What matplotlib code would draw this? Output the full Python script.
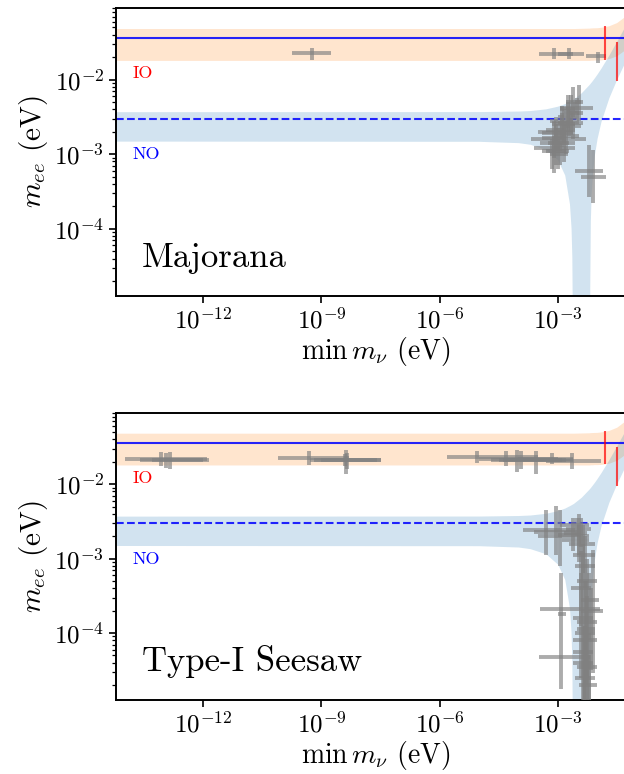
import numpy as np
import matplotlib
matplotlib.use('Agg')
import matplotlib.pyplot as plt
from matplotlib.ticker import LogLocator, NullLocator

plt.rcParams.update({
    'font.family': 'serif',
    'font.serif': ['cmr10'],
    'mathtext.fontset': 'cm',
    'axes.formatter.use_mathtext': True,
    'axes.linewidth': 1.4,
})

# m_ee bands vs lightest mass (log10 eV)
band_lx = [-15, -5, -4, -3.7, -3.3, -3, -2.82, -2.7, -2.66, -2.64, -2.63, -2.62, -2.6, -2.4,
           -2.2, -2.19, -2.185, -2.17, -2.15, -2.12, -2.07, -2, -1.9, -1.7, -1.5, -1.3, -1.0]
no_lo = [0.00150, 0.00149, 0.00143, 0.00136, 0.00116, 0.00084, 0.000525, 0.000216, 0.000102, 0.000042,
         0.0000088, 1e-9, 1e-9, 1e-9, 1e-9, 1e-9, 0.000016, 0.000128, 0.000284, 0.000527, 0.000954,
         0.00162, 0.00274, 0.0057, 0.0101, 0.0168, 0.0346]
no_hi = [0.00372, 0.00373, 0.00379, 0.00385, 0.00406, 0.00441, 0.00477, 0.00514, 0.00528, 0.00535,
         0.00539, 0.00543, 0.0055, 0.00667, 0.00861, 0.00874, 0.0088, 0.0090, 0.00927, 0.00972, 0.01053,
         0.01188, 0.01426, 0.0213, 0.0326, 0.0508, 0.1004]
io_lo = [0.0181] * 14 + [0.0181, 0.0181, 0.0181, 0.0182, 0.0182, 0.0182, 0.0183,
                         0.0183, 0.0184, 0.0191, 0.0209, 0.0249, 0.0392]
io_hi = [0.0484] * 13 + [0.0487, 0.0490, 0.0491, 0.0491, 0.0492, 0.0493, 0.0494, 0.0495,
                         0.0496, 0.0503, 0.0527, 0.0582, 0.0699, 0.1115]

# reference lines
sens_io = 0.036
sens_no = 0.003
red_x = [0.0158, 0.0316]
red_ylo = [0.0184, 0.00944]
red_yhi = [0.0521, 0.0320]

# Majorana points (log10): centre, x range, y range
maj_lx = [-9.25, -3.10, -2.72, -1.97, -2.45, -2.55, -2.65, -2.75, -2.70, -2.85, -2.90, -2.95, -3.00,
          -3.05, -3.10, -2.98, -3.10, -2.80, -2.60, -2.95, -2.50, -2.20, -2.11,
          -3.05, -2.85, -3.15, -2.75, -2.60, -2.90]
maj_ly = [-1.64, -1.65, -1.66, -1.69, -2.30, -2.38, -2.45, -2.50, -2.58, -2.60, -2.68, -2.72, -2.80,
          -2.85, -2.91, -2.95, -2.78, -2.75, -2.62, -3.00, -2.45, -3.22, -3.30,
          -2.70, -2.85, -2.95, -2.40, -2.30, -2.55]
maj_xlo = [-9.74, -3.48, -3.00, -2.27, -2.55, -2.95, -2.85, -3.00, -3.00, -3.15, -3.30, -3.40, -3.67,
           -3.45, -3.59, -3.30, -3.40, -3.10, -2.85, -3.20, -2.70, -2.57, -2.40,
           -3.50, -3.25, -3.40, -2.95, -2.80, -3.20]
maj_xhi = [-8.75, -2.60, -2.34, -1.78, -2.35, -2.11, -2.45, -2.50, -2.35, -2.55, -2.55, -2.60, -2.27,
           -2.70, -2.57, -2.70, -2.85, -2.45, -2.40, -2.75, -2.35, -1.85, -1.78,
           -2.60, -2.55, -2.80, -2.55, -2.40, -2.60]
maj_ylo = [-1.74, -1.73, -1.73, -1.78, -2.55, -2.45, -2.70, -2.70, -2.75, -2.85, -2.90, -2.95, -2.95,
           -3.15, -3.25, -3.20, -3.05, -3.00, -2.80, -3.15, -2.60, -3.57, -3.65,
           -2.95, -3.10, -3.20, -2.65, -2.50, -2.80]
maj_yhi = [-1.57, -1.58, -1.58, -1.63, -2.07, -2.30, -2.20, -2.30, -2.40, -2.40, -2.45, -2.55, -2.65,
           -2.60, -2.75, -2.80, -2.55, -2.55, -2.45, -2.85, -2.25, -2.875, -2.94,
           -2.50, -2.60, -2.80, -2.20, -2.10, -2.35]

# Type-I seesaw points (log10)
see_lx = [-13.07, -12.94, -12.85, -9.31, -8.37, -8.35, -8.40, -5.04, -4.32, -4.04, -3.92, -3.55, -3.15,
          -2.64, -3.29, -3.03, -2.93, -2.50, -2.40, -2.45, -2.35, -2.30, -2.35, -2.25, -2.20, -2.30,
          -2.91, -2.15, -2.10, -2.25, -2.35, -2.25, -2.30, -2.20, -2.30, -2.20, -2.28,
          -2.40, -2.45, -2.32, -2.40, -2.62]
see_ly = [-1.66, -1.67, -1.67, -1.65, -1.67, -1.68, -1.67, -1.63, -1.66, -1.67, -1.67, -1.67, -1.66,
          -1.69, -2.62, -2.64, -2.70, -2.55, -2.60, -2.75, -2.80, -2.95, -3.10, -3.30, -3.55, -3.68,
          -3.75, -3.85, -3.70, -4.00, -4.10, -4.25, -4.32, -4.45, -4.60, -4.70, -3.95,
          -3.40, -2.65, -4.40, -3.80, -2.68]
see_xlo = [-14.0, -13.6, -13.3, -10.1, -9.3, -9.2, -9.0, -5.8, -5.0, -4.7, -4.5, -4.4, -4.0,
           -3.3, -3.89, -3.60, -3.50, -2.95, -2.80, -2.90, -2.70, -2.60, -2.55, -2.50, -2.40, -3.46,
           -3.00, -2.50, -2.40, -2.55, -2.60, -2.60, -3.48, -2.50, -2.55, -2.45, -2.50,
           -2.65, -2.85, -2.60, -2.60, -3.00]
see_xhi = [-11.9, -12.0, -11.85, -8.3, -7.5, -7.6, -7.5, -3.5, -3.0, -2.8, -2.9, -2.6, -2.6,
           -1.9, -2.55, -2.50, -2.20, -2.20, -2.15, -2.20, -2.05, -2.05, -2.05, -2.00, -1.95, -1.93,
           -2.80, -2.00, -1.85, -2.05, -2.00, -2.10, -2.18, -2.00, -2.05, -2.00, -2.05,
           -2.15, -2.25, -2.10, -2.10, -2.40]
see_ylo = [-1.75, -1.78, -1.80, -1.74, -1.86, -1.80, -1.76, -1.72, -1.75, -1.84, -1.80, -1.86, -1.73,
           -1.80, -2.95, -2.95, -3.10, -2.70, -2.85, -3.05, -3.20, -3.40, -3.60, -3.80, -4.10, -4.20,
           -4.75, -4.50, -4.54, -4.60, -4.90, -4.95, -4.90, -4.95, -4.95, -4.95, -4.70,
           -3.90, -2.95, -4.95, -4.60, -2.90]
see_yhi = [-1.57, -1.58, -1.57, -1.55, -1.54, -1.58, -1.60, -1.55, -1.55, -1.54, -1.55, -1.55, -1.58,
           -1.58, -2.35, -2.30, -2.35, -2.45, -2.45, -2.55, -2.55, -2.70, -2.80, -3.00, -3.20, -3.30,
           -3.20, -3.40, -2.89, -3.50, -3.60, -3.80, -3.90, -4.00, -4.20, -4.30, -3.30,
           -2.90, -2.40, -3.90, -3.20, -2.45]

panels = [
    ('Majorana', maj_lx, maj_ly, maj_xlo, maj_xhi, maj_ylo, maj_yhi),
    ('Type-I Seesaw', see_lx, see_ly, see_xlo, see_xhi, see_ylo, see_yhi),
]

W, H = 624, 774
fig = plt.figure(figsize=(W / 100, H / 100), dpi=100)
# axes boxes in pixels: left, top, right, bottom (right edge runs past the canvas)
boxes = [(116, 8, 636.4, 296), (116, 412.7, 636.4, 700)]

mx = 10.0 ** np.array(band_lx)
for (name, lx, ly, xlo, xhi, ylo, yhi), (l, t, r, b) in zip(panels, boxes):
    ax = fig.add_axes([l / W, 1 - b / H, (r - l) / W, (b - t) / H])
    ax.set_xscale('log')
    ax.set_yscale('log')

    ax.fill_between(mx, io_lo, io_hi, color='C1', alpha=0.2, lw=0, zorder=1)
    ax.fill_between(mx, no_lo, no_hi, color='C0', alpha=0.2, lw=0, zorder=1)
    ax.axhline(sens_io, color='blue', lw=1.5, alpha=0.85, zorder=2)
    ax.axhline(sens_no, color='blue', lw=1.5, ls='--', alpha=0.85, zorder=2)

    x = 10.0 ** np.array(lx)
    y = 10.0 ** np.array(ly)
    xerr = [x - 10.0 ** np.array(xlo), 10.0 ** np.array(xhi) - x]
    yerr = [y - 10.0 ** np.array(ylo), 10.0 ** np.array(yhi) - y]
    ax.errorbar(x, y, xerr=xerr, yerr=yerr, fmt='none', ecolor='gray',
                elinewidth=2.8, alpha=0.65, capsize=0, zorder=3)

    ax.vlines(red_x, red_ylo, red_yhi, color='red', lw=1.5, alpha=0.7, zorder=4)

    ax.text(0.031, 0.772, 'IO', color='red', fontsize=13, va='center', transform=ax.transAxes)
    ax.text(0.031, 0.491, 'NO', color='blue', fontsize=13, va='center', transform=ax.transAxes)
    ax.text(0.05, 0.10, name, fontsize=25, va='baseline', transform=ax.transAxes)

    ax.set_xlim(10 ** -14.22, 10 ** -1.0)
    ax.set_ylim(10 ** -4.9, 10 ** -1.04)
    ax.set_xticks([1e-12, 1e-9, 1e-6, 1e-3])
    ax.xaxis.set_minor_locator(NullLocator())
    ax.yaxis.set_major_locator(LogLocator(base=10, numticks=10))
    ax.yaxis.set_minor_locator(LogLocator(base=10, subs=np.arange(2, 10), numticks=20))
    ax.tick_params(which='major', length=5, width=1.2, labelsize=18)
    ax.tick_params(which='minor', length=3, width=0.9)
    ax.set_xlabel(r'$\min\,m_\nu$ (eV)', fontsize=20, labelpad=1)
    ax.set_ylabel(r'$m_{ee}$ (eV)', fontsize=21, labelpad=3)

fig.savefig('out.png', dpi=100)
